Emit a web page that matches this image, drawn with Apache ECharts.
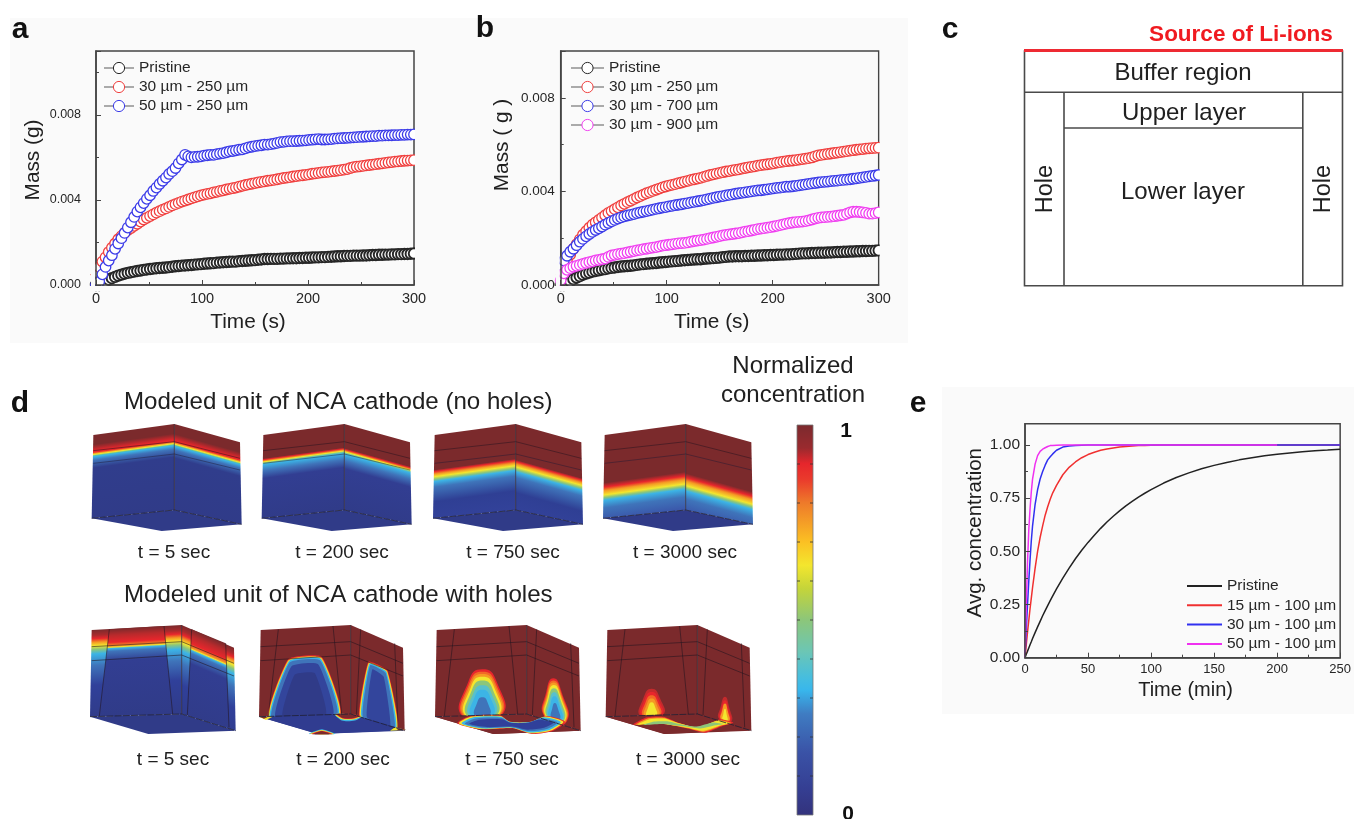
<!DOCTYPE html>
<html><head><meta charset="utf-8">
<style>html,body{margin:0;padding:0;background:#fff}#chart{width:1354px;height:819px;filter:blur(.45px)}</style>
<script src="https://cdn.jsdelivr.net/npm/echarts@6/dist/echarts.min.js"></script>
</head><body><div id="chart"></div>
<script>
// ---------- DATA (mass in mg, sampled every 3 s from t = 0 to 300 s) ----------
const sampleStepSec = 3;
const massPristine = [0,0,.05,.15,.25,.32,.38,.44,.49,.53,.57,.60,.63,.66,.68,.71,.73,.75,.77,.79,.80,.81,.82,.84,.86,.88,.89,.91,.92,.93,.94,.96,.97,.98,1.0,1.01,1.02,1.03,1.05,1.06,1.07,1.08,1.09,1.10,1.10,1.12,1.13,1.14,1.15,1.16,1.17,1.19,1.20,1.22,1.22,1.23,1.23,1.23,1.24,1.24,1.25,1.25,1.26,1.26,1.27,1.27,1.28,1.28,1.29,1.30,1.30,1.31,1.31,1.32,1.33,1.34,1.35,1.35,1.36,1.37,1.37,1.38,1.38,1.38,1.39,1.39,1.40,1.41,1.41,1.42,1.42,1.43,1.43,1.44,1.44,1.45,1.45,1.46,1.46,1.47,1.48];
const mass30_250 = [.6,.85,1.1,1.3,1.55,1.75,1.95,2.15,2.3,2.45,2.58,2.68,2.78,2.88,2.98,3.08,3.16,3.24,3.32,3.40,3.47,3.54,3.60,3.67,3.74,3.80,3.86,3.92,3.97,4.02,4.07,4.12,4.17,4.21,4.25,4.28,4.31,4.35,4.38,4.42,4.45,4.49,4.52,4.55,4.58,4.62,4.66,4.70,4.73,4.76,4.79,4.82,4.85,4.87,4.90,4.92,4.94,4.97,5.0,5.03,5.05,5.07,5.10,5.12,5.14,5.16,5.18,5.2,5.23,5.25,5.27,5.29,5.31,5.32,5.34,5.36,5.38,5.40,5.42,5.45,5.5,5.54,5.56,5.58,5.6,5.62,5.64,5.66,5.68,5.70,5.72,5.74,5.76,5.78,5.80,5.81,5.83,5.84,5.85,5.86,5.87];
const mass50_250 = [0,.15,.5,.85,1.15,1.4,1.7,1.95,2.2,2.45,2.7,2.95,3.2,3.45,3.65,3.85,4.05,4.22,4.42,4.58,4.75,4.9,5.05,5.22,5.35,5.5,5.72,5.9,6.12,6.05,6.0,6.02,6.03,6.05,6.08,6.1,6.12,6.12,6.15,6.18,6.2,6.24,6.28,6.3,6.33,6.36,6.38,6.42,6.47,6.5,6.53,6.55,6.57,6.6,6.6,6.62,6.65,6.68,6.72,6.73,6.75,6.76,6.76,6.77,6.78,6.79,6.8,6.82,6.83,6.85,6.86,6.84,6.84,6.85,6.86,6.88,6.89,6.9,6.91,6.92,6.93,6.94,6.95,6.96,6.97,6.98,6.99,7.0,7.0,7.02,7.02,7.03,7.03,7.04,7.05,7.05,7.06,7.06,7.07,7.07,7.08];
const mass30_700 = [.85,1.05,1.25,1.42,1.55,1.7,1.85,1.97,2.08,2.18,2.27,2.35,2.42,2.5,2.58,2.65,2.72,2.78,2.84,2.89,2.93,2.97,3.0,3.03,3.07,3.1,3.13,3.16,3.19,3.22,3.25,3.28,3.31,3.33,3.36,3.38,3.41,3.43,3.45,3.48,3.5,3.53,3.55,3.58,3.6,3.63,3.66,3.69,3.72,3.75,3.78,3.8,3.83,3.85,3.87,3.9,3.92,3.94,3.96,3.98,4.0,4.02,4.04,4.05,4.07,4.09,4.11,4.13,4.15,4.16,4.18,4.2,4.2,4.22,4.24,4.26,4.28,4.3,4.32,4.34,4.36,4.38,4.4,4.41,4.42,4.44,4.45,4.46,4.48,4.49,4.5,4.52,4.54,4.56,4.58,4.6,4.62,4.64,4.66,4.68,4.7];
const mass30_900 = [.2,.5,.65,.72,.78,.82,.86,.9,.94,.98,1.01,1.05,1.07,1.1,1.13,1.2,1.26,1.29,1.32,1.34,1.36,1.39,1.42,1.45,1.48,1.5,1.53,1.55,1.58,1.6,1.62,1.65,1.68,1.7,1.72,1.74,1.76,1.78,1.79,1.8,1.82,1.85,1.88,1.9,1.92,1.94,1.97,2.0,2.03,2.06,2.09,2.12,2.14,2.16,2.18,2.2,2.22,2.25,2.28,2.3,2.33,2.36,2.39,2.41,2.43,2.45,2.47,2.5,2.53,2.56,2.59,2.62,2.65,2.67,2.69,2.7,2.71,2.73,2.76,2.8,2.84,2.87,2.89,2.9,2.91,2.92,2.94,2.96,2.98,3.0,3.05,3.1,3.13,3.13,3.12,3.1,3.08,3.05,3.05,3.07,3.1];

const timeMin = [0,1,2,3,4,5,6,8,10,12,14,16,18,20,22,25,30,35,40,45,50,55,60,65,70,75,80,85,90,95,100,110,120,130,140,150,160,170,180,190,200,210,220,230,240,250];
const concPristine = [0,.016,.031,.046,.061,.075,.09,.118,.145,.171,.197,.221,.245,.268,.291,.323,.374,.421,.465,.505,.542,.576,.608,.638,.665,.69,.714,.735,.755,.773,.79,.821,.847,.869,.888,.904,.918,.93,.94,.949,.956,.962,.968,.973,.976,.98];
const conc15_100 = [0,.06,.12,.175,.23,.28,.33,.42,.5,.565,.62,.67,.71,.745,.775,.81,.86,.895,.92,.94,.955,.966,.975,.981,.986,.99,.993,.995,.997,.998,.999,1,1,1,1,1,1,1,1,1,1,1,1,1,1,1];
const conc30_100 = [0,.13,.25,.36,.46,.55,.62,.72,.79,.84,.875,.905,.93,.945,.958,.975,.99,.995,.998,.999,1,1,1,1,1,1,1,1,1,1,1,1,1,1,1,1,1,1,1,1,1,1,1,1,1,1];
const conc50_100 = [0,.25,.45,.6,.7,.78,.84,.91,.95,.97,.98,.987,.993,.997,.998,.999,1,1,1,1,1,1,1,1,1,1,1,1,1,1,1,1,1,1,1,1,1,1,1,1,1,null,null,null,null,null];

const colorbarStops = [[0,'#7b2a2e'],[.06,'#9a2a2e'],[.1,'#e6262c'],[.14,'#ea3a2c'],[.2,'#ee7a2a'],[.3,'#fbc023'],[.36,'#f3e62e'],[.42,'#c4d43a'],[.5,'#8cc67a'],[.58,'#6cc6b4'],[.65,'#45bde0'],[.68,'#38b6ec'],[.74,'#3f7cc2'],[.84,'#3a52a6'],[.93,'#353f93'],[1,'#33327c']];

// ---------- PALETTE / FONT ----------
const FONT = '"Liberation Sans", Arial, sans-serif';
const INK = '#202020', FRAME = '#444', PANEL = '#fafafa', TICK = '#262626';
const DARK = '#7b2a2c', RED = '#e8262c', ORANGE = '#f59a24', YEL = '#f3e62e', GREEN = '#8cc67a', CYAN = '#3cb4e6', BLUE = '#3f74ba', NAVY = '#303b88';
const CR = '#f0403f', CB = '#3c3ce8', CM = '#f040f0', CK = '#262626';

// ---------- GRAPHIC HELPERS ----------
const G = [];
const text = (t, x, y, size, o = {}) => G.push({type:'text', silent:true, x, y, rotation:o.rot||0, z:o.z||6,
  style:{text:t, font:`${o.weight||'normal'} ${size}px ${FONT}`, fill:o.fill||INK, align:o.align||'center', verticalAlign:'middle'}});
const poly = (pts, fill, o = {}) => G.push({type:'polygon', silent:true, z:o.z||1, shape:{points:pts, smooth:o.smooth||0}, style:{fill, stroke:o.stroke||null, lineWidth:o.lw||0}});
const pline = (pts, color, w = .8, dash) => G.push({type:'polyline', silent:true, z:1, shape:{points:pts}, style:{stroke:color, fill:null, lineWidth:w, lineDash:dash||null}});
const rect = (x, y, w, h, o) => G.push({type:'rect', silent:true, z:o.z===undefined?-1:o.z, shape:{x,y,width:w,height:h}, style:{fill:o.fill||null, stroke:o.stroke||null, lineWidth:o.lw||0}});
function grad(A, B, h, stops) {
  const dx = B[0]-A[0], dy = B[1]-A[1], L = Math.hypot(dx,dy);
  let nx = -dy/L, ny = dx/L; if (ny < 0) { nx=-nx; ny=-ny; }
  return {type:'linear', global:true, x:A[0], y:A[1], x2:A[0]+nx*h, y2:A[1]+ny*h,
    colorStops:stops.map(s=>({offset:s[0], color:s[1]}))};
}
const mapper = (ox,oy,dx) => p => [ox+(p[0]+dx)/3, oy+p[1]/3];
function layered(m, pts, cx, cy, layers, smooth) {
  layers.forEach(l => {
    const q = pts.map(p => [cx+(p[0]-cx)*l[0], cy+(p[1]-cy)*l[1]]).map(m);
    poly(q, l[2], {smooth});
  });
}

// ---------- PANEL BACKGROUNDS ----------
rect(10,18,898,325,{fill:PANEL});
rect(942,387,412,327,{fill:PANEL});

// ---------- PANEL LETTERS ----------
[['a',20,30],['b',485,29],['c',950,30],['d',20,404],['e',918,404]].forEach(l=>text(l[0],l[1],l[2],30,{weight:'bold',fill:'#111'}));

// ---------- PANEL C ----------
rect(1024.5,51,318,234.7,{stroke:'#4a4a4a',lw:1.6,z:1});
pline([[1024.5,92.3],[1342.5,92.3]],'#4a4a4a',1.6);
pline([[1064,92.3],[1064,285.7]],'#4a4a4a',1.6);
pline([[1302.8,92.3],[1302.8,285.7]],'#4a4a4a',1.6);
pline([[1064,128],[1302.8,128]],'#4a4a4a',1.6);
pline([[1024,50.5],[1343,50.5]],'#ee2a33',3);
text('Source of Li-ions',1241,35,22.5,{weight:'bold',fill:'#f01a20'});
text('Buffer region',1183,73,24);
text('Upper layer',1184,113,24);
text('Lower layer',1183,192,24);
text('Hole',1046,189,23.5,{rot:Math.PI/2});
text('Hole',1324,189,23.5,{rot:Math.PI/2});

// ---------- PANEL D TITLES / COLORBAR ----------
text('Modeled unit of NCA cathode (no holes)',124,402,24.1,{align:'left'});
text('Modeled unit of NCA cathode with holes',124,595,24.1,{align:'left'});
text('Normalized',793,366,24);
text('concentration',793,395,24);
const cbar = {x:797,y:425,w:16,h:390};
G.push({type:'rect',silent:true,z:1,shape:{x:cbar.x,y:cbar.y,width:cbar.w,height:cbar.h},
  style:{fill:{type:'linear',x:0,y:0,x2:0,y2:1,colorStops:colorbarStops.map(s=>({offset:s[0],color:s[1]}))},stroke:'#777',lineWidth:.8}});
for (let i=1;i<10;i++){ const y=cbar.y+cbar.h*i/10;
  pline([[cbar.x,y],[cbar.x+3,y]],'#333',.8); pline([[cbar.x+cbar.w-3,y],[cbar.x+cbar.w,y]],'#333',.8); }
text('1',846,431,21,{weight:'bold',fill:'#111'});
text('0',848,814,21,{weight:'bold',fill:'#111'});

// ---------- UPPER CUBES ----------
const topCube = {TL:[40,75],TC:[283,42],TR:[480,97],BL:[35,325],BC:[283,300],BR:[485,343],BF:[245,363]};
function baseCube(C,m,stops,bottomFill){
  const H=(C.BC[1]-C.TC[1])/3;
  const TL=m(C.TL),TC=m(C.TC),TR=m(C.TR),BL=m(C.BL),BC=m(C.BC),BR=m(C.BR),BF=m(C.BF);
  poly([TL,TC,BC,BL],grad(TL,TC,H,stops));
  poly([TC,TR,BR,BC],grad(TR,TC,H,stops));
  poly([BL,BC,BR,BF],bottomFill);
  return {TL,TC,TR,BL,BC,BR,BF,H};
}
function cubeFrame(f){
  pline([f.TC,f.BC],'#2a1f2a',.7);
  pline([f.BL,f.BC,f.BR],'#1f1f33',.8,[7,1.2]);
}
function upperCube(ox,oy,dx,stops){
  const m=mapper(ox,oy,dx);
  const f=baseCube(topCube,m,stops,NAVY);
  pline([[40,122],[283,95],[480,145]].map(m),'rgba(40,20,30,.75)',.7);
  pline([[40,160],[283,132],[480,180]].map(m),'rgba(30,25,50,.65)',.7);
  cubeFrame(f);
}
upperCube(80,410,0,[[0,DARK],[.11,DARK],[.18,'#e0262c'],[.2,'#ee2a2a'],[.213,ORANGE],[.225,YEL],[.24,'#55c0b0'],[.25,CYAN],[.29,BLUE],[.38,'#303d8c'],[1,NAVY]]);
upperCube(80,410,510,[[0,DARK],[.27,DARK],[.285,RED],[.3,ORANGE],[.31,YEL],[.325,'#70c8a0'],[.34,CYAN],[.41,BLUE],[.5,'#323e92'],[1,NAVY]]);
upperCube(420,410,4,[[0,DARK],[.4,DARK],[.42,RED],[.45,ORANGE],[.48,YEL],[.51,GREEN],[.535,CYAN],[.6,BLUE],[.77,'#2f3f94'],[1,'#33429a']]);
upperCube(420,410,514,[[0,DARK],[.55,DARK],[.6,RED],[.64,ORANGE],[.69,YEL],[.72,GREEN],[.75,CYAN],[.84,BLUE],[1,'#3a53a8']]);

// ---------- LOWER CUBES ----------
const lowCube = {TL:[35,60],TC:[305,45],TR:[462,113],BL:[30,320],BC:[305,312],BR:[467,362],BF:[205,372]};
const holeLines = [
  [[88,58],[58,318]],[[252,48],[278,312]],[[335,58],[322,315]],[[437,100],[447,352]],
  [[35,110],[305,95],[462,160]],[[35,152],[305,135],[462,198]]];
function lowerFrame(m,f){
  holeLines.forEach(l=>pline(l.map(m),'rgba(35,20,30,.8)',.7));
  cubeFrame(f);
}
// t = 5 sec
(function(){
  const m=mapper(80,610,0);
  const hole=[[0,DARK],[.06,'#a82a2c'],[.1,RED],[.14,ORANGE],[.18,YEL],[.22,GREEN],[.27,CYAN],[.4,BLUE],[.62,'#30409a'],[1,NAVY]];
  const inner=[[0,DARK],[.07,'#b82a2c'],[.15,RED],[.195,ORANGE],[.205,YEL],[.22,CYAN],[.25,BLUE],[.36,'#323e92'],[1,NAVY]];
  const f=baseCube(lowCube,m,hole,NAVY);
  poly([[88,58],[252,48],[278,312],[58,318]].map(m),grad(f.TL,f.TC,f.H,inner));
  poly([[335,58],[437,100],[447,352],[322,315]].map(m),grad(f.TR,f.TC,f.H,inner));
  lowerFrame(m,f);
})();
// t = 200 sec
(function(){
  const m=mapper(80,610,507), a=p=>[p[0]-507,p[1]];
  const f=baseCube(lowCube,m,[[0,DARK],[1,DARK]],'#303c90');
  const M=p=>m(a(p));
  const lay=[[1,1,RED],[.985,.985,ORANGE],[.975,.975,YEL],[.95,.965,CYAN],[.91,.94,BLUE],[.8,.87,'#33459c'],[.6,.72,NAVY]];
  layered(M,[[565,322],[625,147],[725,140],[782,312]],672,315,lay,.15);
  layered(M,[[838,320],[865,155],[922,180],[955,352]],895,335,[[1,1,RED],[.97,.985,ORANGE],[.95,.975,YEL],[.9,.965,CYAN],[.82,.94,BLUE],[.6,.87,'#33459c']],.12);
  poly([[538,320],[812,312],[978,360],[715,372]].map(M),'#303c90');
  layered(M,[[765,312],[845,316],[825,324],[785,324]],805,312,[[1,1.6,CYAN],[1,1.3,YEL],[.9,1.1,RED],[.8,1,DARK]],.3);
  layered(M,[[690,372],[725,362],[762,372]],725,372,[[1.1,1.4,CYAN],[1,1.2,YEL],[.9,1,RED],[.7,.8,DARK]],.2);
  poly([[538,320],[578,320],[558,330]].map(M),YEL);
  poly([[538,320],[565,320],[552,326]].map(M),DARK);
  poly([[978,360],[945,352],[930,362]].map(M),YEL);
  poly([[978,360],[957,355],[950,361]].map(M),DARK);
  lowerFrame(m,f);
})();
// t = 750 sec
(function(){
  const m=mapper(425,610,0);
  const f=baseCube(lowCube,m,[[0,DARK],[1,DARK]],DARK);
  const lay=[[1,1,RED],[.94,.95,'#f26a26'],[.88,.9,ORANGE],[.82,.84,YEL],[.74,.76,GREEN],[.64,.66,'#58c0cc'],[.54,.56,CYAN],[.36,.4,BLUE]];
  layered(m,[[115,322],[130,215],[172,178],[215,215],[228,318]],172,318,lay,.6);
  layered(m,[[360,322],[365,240],[385,205],[408,240],[425,335]],392,328,lay,.6);
  poly([[30,320],[305,312],[467,362],[205,372]].map(m),DARK);
  layered(m,[[97,340],[135,318],[225,316],[255,335],[320,335],[365,318],[420,335],[385,362],[320,372],[262,355],[165,358]],260,343,[[1,1,RED],[.97,.93,YEL],[.92,.84,CYAN],[.86,.7,BLUE],[.78,.55,'#30409a']],.25);
  lowerFrame(m,f);
})();
// t = 3000 sec
(function(){
  const m=mapper(425,610,512), a=p=>[p[0]-512,p[1]], M=p=>m(a(p));
  const f=baseCube(lowCube,m,[[0,DARK],[1,DARK]],DARK);
  layered(M,[[648,320],[655,265],[680,236],[705,265],[713,316]],680,318,[[1,1,'#c42a2c'],[.88,.88,RED],[.74,.76,'#f26a26'],[.6,.64,ORANGE],[.42,.5,YEL]],.6);
  layered(M,[[883,328],[887,290],[900,260],[912,290],[918,336]],900,332,[[1,1,'#c42a2c'],[.82,.85,RED],[.66,.72,ORANGE],[.38,.5,YEL]],.6);
  poly([[543,320],[817,310],[980,360],[720,372]].map(M),DARK);
  layered(M,[[625,344],[665,322],[715,320],[760,338],[825,355],[885,328],[925,338],[895,347],[840,368],[790,356],[725,343],[690,338]],775,345,[[1,1,RED],[.96,.88,ORANGE],[.92,.76,YEL],[.8,.45,GREEN]],.2);
  lowerFrame(m,f);
})();

// ---------- CAPTIONS ----------
const capTop=['t = 5 sec','t = 200 sec','t = 750 sec','t = 3000 sec'];
[174,342,513,685].forEach((x,i)=>text(capTop[i],x,553,19));
[173,343,512,688].forEach((x,i)=>text(capTop[i],x,760,19));

// ---------- CLIPPING STRIPS around the marker plots ----------
[[96,414],[560.7,878.7]].forEach(p=>{
  rect(p[1]+1,48,8,240,{fill:PANEL,z:4});
  rect(p[0]-8,286,p[1]-p[0]+16,5,{fill:PANEL,z:4});
  rect(p[0]-7,200,6,74,{fill:PANEL,z:4});
  rect(p[0]-5,274,4,13,{fill:PANEL,z:4});
});

// ---------- CHART OPTION ----------
const toXY = arr => arr.map((v,i)=>[i*sampleStepSec, v/1000]);
const massSeries=(name,arr,color,axis,bw)=>({type:'line',name,xAxisIndex:axis,yAxisIndex:axis,data:toXY(arr),
  symbol:'circle',symbolSize:10.5,showAllSymbol:true,silent:true,z:2,
  lineStyle:{color:'#aaa',width:.8},itemStyle:{color:'#fff',borderColor:color,borderWidth:bw}});
const concSeries=(name,arr,color)=>({type:'line',name,xAxisIndex:2,yAxisIndex:2,
  data:timeMin.map((t,i)=>[t,arr[i]]).filter(p=>p[1]!==null),
  symbol:'none',smooth:false,silent:true,lineStyle:{color,width:1.5}});
const baseAxis=(o)=>Object.assign({type:'value',splitLine:{show:false},nameLocation:'middle',z:5,
  axisLine:{show:true,onZero:false,lineStyle:{color:FRAME,width:1.5}},
  axisTick:{show:true,inside:true,length:5,lineStyle:{color:FRAME,width:1}},
  minorTick:{show:true,splitNumber:2,length:3,lineStyle:{color:FRAME,width:1}},
  minorSplitLine:{show:false}},o);
const xMass=(g,padR)=>baseAxis({gridIndex:g,min:0,max:300,interval:100,name:'Time (s)',nameGap:27,
  nameTextStyle:{fontFamily:FONT,fontSize:20.8,color:INK,padding:[0,padR,0,0]},
  axisLabel:{fontFamily:FONT,fontSize:14.5,color:TICK,margin:6,hideOverlap:false,showMinLabel:true,showMaxLabel:true}});
const yMass=(g,max,name,gap,margin,size,pad)=>baseAxis({gridIndex:g,min:0,max,interval:.004,name,nameGap:gap,
  nameTextStyle:{fontFamily:FONT,fontSize:20.8,color:INK,padding:[0,0,0,pad]},
  axisLabel:{fontFamily:FONT,fontSize:size,color:TICK,margin,formatter:v=>v.toFixed(3),showMaxLabel:false}});
const legendMass=(left,top,width,names)=>({left,top,padding:0,orient:'vertical',itemWidth:width,itemHeight:14,itemGap:3,
  selectedMode:false,textStyle:{fontFamily:FONT,fontSize:15.5,lineHeight:14,color:TICK},
  data:names.map(n=>({name:n,itemStyle:{borderWidth:1}}))});

const frame={show:true,borderColor:FRAME,borderWidth:1.5,backgroundColor:'transparent'};
const option={
  animation:false,backgroundColor:'transparent',
  grid:[
    Object.assign({left:96,top:51,width:318,height:234},frame),
    Object.assign({left:560.7,top:51,width:318,height:234},frame),
    Object.assign({left:1025,top:423.7,width:318,height:234},frame)],
  xAxis:[xMass(0,14),xMass(1,16),
    baseAxis({gridIndex:2,min:0,max:250,interval:50,name:'Time (min)',nameGap:23,
      nameTextStyle:{fontFamily:FONT,fontSize:20,color:INK,padding:[0,0,0,6]},
      axisLabel:{fontFamily:FONT,fontSize:13,color:TICK,margin:5,showMaxLabel:true}})],
  yAxis:[yMass(0,.011,'Mass (g)',52,15,12.5,16),yMass(1,.01,'Mass ( g )',48,6,13.5,46),
    baseAxis({gridIndex:2,min:0,max:1.1,interval:.25,name:'Avg. concentration',nameGap:39,
      nameTextStyle:{fontFamily:FONT,fontSize:20.5,color:INK,padding:[0,0,0,16]},
      axisLabel:{fontFamily:FONT,fontSize:15.5,color:TICK,margin:5,formatter:v=>v.toFixed(2),showMaxLabel:false}})],
  legend:[
    legendMass(103,60,30,['Pristine','30 µm - 250 µm','50 µm - 250 µm']),
    legendMass(570,60,33,['Pristine','30 µm - 250 µm','30 µm - 700 µm','30 µm - 900 µm']),
    {left:1187,top:578,padding:0,orient:'vertical',itemWidth:35,itemHeight:2,itemGap:3.3,selectedMode:false,
     textStyle:{fontFamily:FONT,fontSize:15.5,color:TICK,lineHeight:15},
     data:[{name:'Pristine',icon:'rect',itemStyle:{color:'#222',borderWidth:0}},
           {name:'15 µm - 100 µm',icon:'rect',itemStyle:{color:'#f03030',borderWidth:0}},
           {name:'30 µm - 100 µm',icon:'rect',itemStyle:{color:'#3030f0',borderWidth:0}},
           {name:'50 µm - 100 µm',icon:'rect',itemStyle:{color:'#f030f0',borderWidth:0}}]}],
  graphic:{elements:G},
  series:[
    massSeries('Pristine',massPristine,CK,0,1.9),
    massSeries('30 µm - 250 µm',mass30_250,CR,0,1.3),
    massSeries('50 µm - 250 µm',mass50_250,CB,0,1.3),
    massSeries('Pristine',massPristine,CK,1,1.9),
    massSeries('30 µm - 250 µm',mass30_250,CR,1,1.3),
    massSeries('30 µm - 700 µm',mass30_700,CB,1,1.3),
    massSeries('30 µm - 900 µm',mass30_900,CM,1,1.3),
    concSeries('Pristine',concPristine,'#222'),
    concSeries('15 µm - 100 µm',conc15_100,'#f03030'),
    concSeries('30 µm - 100 µm',conc30_100,'#3030f0'),
    concSeries('50 µm - 100 µm',conc50_100,'#f030f0')]
};
const chart=echarts.init(document.getElementById('chart'),null,{renderer:'canvas'});
chart.setOption(option);
</script></body></html>
